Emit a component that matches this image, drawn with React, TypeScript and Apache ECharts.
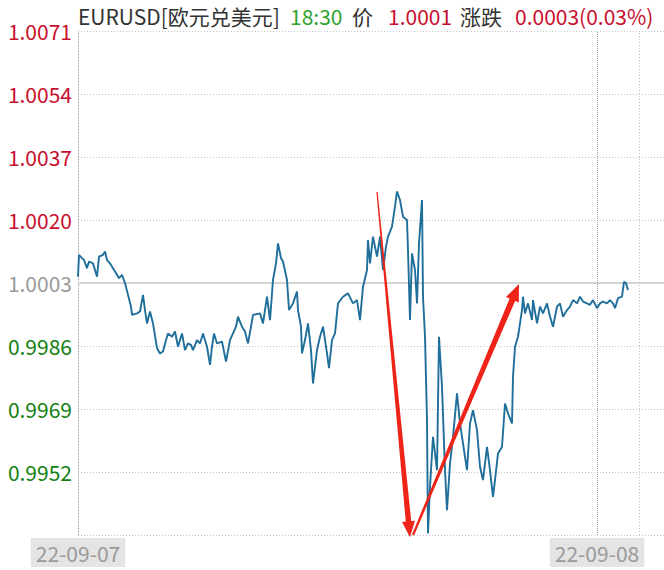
import React, { useEffect, useRef } from 'react';
import * as echarts from 'echarts';

// ---- header data ----
const symbolName = 'EURUSD[欧元兑美元]';
const quoteTime = '18:30';
const priceLabel = '价';
const lastPrice = '1.0001';
const changeLabel = '涨跌';
const changeText = '0.0003(0.03%)';

// ---- axis data ----
const prevClose = 1.0003;
const yStep = 17; // 0.0017 expressed in 0.0001 units
const yHalfRange = 68; // 0.0068
const dayLabels = ['22-09-07', '22-09-08'];
const dayStarts = [0, 519];
const sessionEnd = 561;
const axisEnd = 586;

// ---- series data (time slot, price) ----
const times = [
  0, 1, 4, 6, 9, 11, 15, 19, 21, 25,
  27, 29, 32, 35, 39, 41, 44, 47, 50, 53,
  54, 59, 62, 65, 67, 69, 72, 75, 79, 82,
  85, 88, 90, 94, 97, 100, 104, 107, 110, 113,
  115, 119, 122, 125, 129, 132, 134, 136, 139, 144,
  148, 152, 155, 158, 160, 164, 167, 170, 173, 175,
  182, 185, 189, 192, 195, 198, 200, 203, 205, 209,
  211, 215, 219, 220, 223, 224, 227, 230, 233, 235,
  239, 242, 245, 249, 251, 254, 257, 260, 265, 270,
  275, 279, 282, 285, 289, 290, 292, 295, 299, 302,
  305, 308, 310, 314, 317, 319, 322, 325, 329, 330,
  332, 334, 337, 339, 341, 344, 345, 347, 349, 350,
  352, 355, 359, 361, 364, 367, 369, 372, 375, 379,
  382, 385, 389, 392, 395, 399, 402, 405, 409, 412,
  415, 417, 420, 424, 427, 430, 434, 435, 437, 440,
  444, 445, 447, 450, 454, 455, 459, 462, 465, 469,
  472, 475, 479, 482, 485, 489, 492, 495, 499, 502,
  505, 509, 512, 515, 519, 522, 525, 529, 532, 535,
  537, 540, 544, 546, 548, 550,
];
const prices = [
  1.00047, 1.00106, 1.00097, 1.00092, 1.0007, 1.00088, 1.00083, 1.00047, 1.00101, 1.00106,
  1.00115, 1.00092, 1.00083, 1.0007, 1.00052, 1.00043, 1.00052, 1.0003, 0.99998, 0.99966,
  0.99944, 0.99948, 0.99953, 0.99998, 0.99957, 0.99921, 0.99953, 0.99921, 0.99854, 0.9984,
  0.99845, 0.99876, 0.99894, 0.99885, 0.99899, 0.99858, 0.99894, 0.99849, 0.99867, 0.99863,
  0.99849, 0.99876, 0.99867, 0.99894, 0.99858, 0.99809, 0.99858, 0.99894, 0.99867, 0.99872,
  0.99818, 0.99876, 0.99894, 0.99912, 0.99939, 0.99912, 0.99899, 0.99867, 0.99912, 0.99944,
  0.99948, 0.99921, 0.99993, 0.9993, 1.00038, 1.00083, 1.00137, 1.00097, 1.00088, 1.00038,
  0.99957, 0.99975, 1.00007, 0.99957, 0.99912, 0.9984, 0.99876, 0.99921, 0.99849, 0.99759,
  0.99849, 0.99885, 0.99912, 0.9984, 0.998, 0.99876, 0.99894, 0.99975, 0.99993, 1.00002,
  0.99975, 0.99984, 0.9993, 1.0002, 1.00065, 1.00146, 1.00083, 1.00155, 1.00101, 1.00155,
  1.00065, 1.00128, 1.00155, 1.00182, 1.00236, 1.00277, 1.00254, 1.00209, 1.002, 1.00119,
  0.9993, 1.0011, 1.00065, 0.99975, 1.00137, 1.00254, 0.99993, 0.99885, 0.9966, 0.99354,
  0.9948, 0.99615, 0.99525, 0.99885, 0.9975, 0.99525, 0.99417, 0.99543, 0.99615, 0.99732,
  0.99651, 0.99597, 0.99525, 0.99651, 0.99687, 0.99633, 0.99534, 0.99498, 0.99588, 0.99525,
  0.99453, 0.99498, 0.9957, 0.99588, 0.99705, 0.99678, 0.99651, 0.99777, 0.99858, 0.99885,
  0.99957, 0.99993, 0.99948, 0.99975, 0.9993, 0.99984, 0.99921, 0.99966, 0.99948, 0.99975,
  0.99939, 0.99912, 0.99966, 0.99975, 0.99939, 0.99957, 0.99966, 0.99984, 0.99975, 0.99993,
  0.9998, 0.99975, 0.99971, 0.99984, 0.99962, 0.99975, 0.9998, 0.99975, 0.99984, 0.99975,
  0.99962, 0.99989, 0.99993, 1.00033, 1.0003, 1.00011,
];

// ---- annotation arrows (time slot, price) ----
const arrowFrom = [
  [299, 1.00276],
  [335, 0.9935],
];
const arrowTo = [
  [332, 0.99344],
  [441, 1.00027],
];

// ---- styles ----
const RED = '#c8102e';
const GREEN = '#138013';
const GRAY = '#9a9a9a';
const DARK = '#333333';
const TIME_GREEN = '#2ea32e';
const LINE_BLUE = '#1f6f9a';
const ARROW_RED = '#ee2419';
const FONT = "'Noto Sans CJK SC', 'Noto Sans', sans-serif";
// [start width, end width, head width, head length]
const ARROW_SHAPE = [
  [1.2, 5.5, 13, 16],
  [2.2, 6, 14, 17],
];

const toOffset = (p: number) => Math.round((p - prevClose) * 1e6) / 100;

export default function App() {
  const ref = useRef<HTMLDivElement>(null);

  useEffect(() => {
    document.body.style.margin = '0';
    if (!ref.current) return;
    const chart = echarts.init(ref.current, undefined, { renderer: 'svg' });

    const n = Math.min(times.length, prices.length);
    const lineData = [] as number[][];
    for (let i = 0; i < n; i++) lineData.push([times[i], toOffset(prices[i])]);

    const arrowData = arrowFrom.map((f, i) => [
      f[0],
      toOffset(f[1]),
      arrowTo[i][0],
      toOffset(arrowTo[i][1]),
    ]);

    const headerPieces = [
      { text: symbolName, color: DARK, x: 78 },
      { text: quoteTime, color: TIME_GREEN, x: 290 },
      { text: priceLabel, color: DARK, x: 352 },
      { text: lastPrice, color: RED, x: 388 },
      { text: changeLabel, color: DARK, x: 460 },
      { text: changeText, color: RED, x: 515 },
    ];

    chart.setOption({
      animation: false,
      backgroundColor: '#ffffff',
      textStyle: { fontFamily: FONT },
      grid: { left: 78, right: 0, top: 31, bottom: 35, containLabel: false, outerBoundsMode: 'none' },
      graphic: headerPieces.map((p) => ({
        type: 'text',
        x: p.x,
        y: 16,
        style: {
          text: p.text,
          fill: p.color,
          fontSize: 21,
          fontFamily: FONT,
          verticalAlign: 'middle',
          align: 'left',
        },
      })),
      xAxis: {
        type: 'value',
        min: 0,
        max: axisEnd,
        axisLine: { show: true, lineStyle: { color: '#e4e4e4', width: 1 } },
        axisTick: { show: false },
        splitLine: { show: false },
        axisLabel: {
          customValues: dayStarts,
          formatter: (v: number) => {
            const k = dayStarts.indexOf(Math.round(v));
            return k >= 0 ? dayLabels[k] : '';
          },
          color: GRAY,
          fontSize: 21,
          lineHeight: 22,
          backgroundColor: '#e4e4e4',
          padding: [4, 5, 3, 5],
          margin: 3,
          fontFamily: FONT,
        },
      },
      yAxis: {
        type: 'value',
        min: -yHalfRange,
        max: yHalfRange,
        interval: yStep,
        axisLine: { show: true, lineStyle: { color: '#a8a8a8', type: [1, 2] } },
        axisTick: { show: false },
        splitLine: { show: true, lineStyle: { color: '#c4c4c4', type: [1, 2], width: 1 } },
        axisLabel: {
          showMinLabel: false,
          fontSize: 21,
          margin: 6,
          fontFamily: FONT,
          formatter: (v: number) => (prevClose + v / 10000).toFixed(4),
          color: (v: any) => {
            const x = Number(v);
            return x > 0.01 ? RED : x < -0.01 ? GREEN : GRAY;
          },
        },
      },
      series: [
        {
          type: 'line',
          data: lineData,
          showSymbol: false,
          symbol: 'none',
          z: 3,
          lineStyle: { color: LINE_BLUE, width: 1.9 },
          markLine: {
            silent: true,
            symbol: ['none', 'none'],
            z: 1,
            label: { show: false },
            emphasis: { disabled: true },
            data: [
              { yAxis: 0, lineStyle: { color: '#d4d4d4', width: 2, type: 'solid' } },
              { xAxis: dayStarts[1], lineStyle: { color: '#9c9c9c', width: 1, type: [1, 1] } },
              { xAxis: sessionEnd, lineStyle: { color: '#c0c0c0', width: 1, type: [1, 2] } },
            ],
          },
        },
        {
          type: 'custom',
          coordinateSystem: 'cartesian2d',
          clip: false,
          z: 10,
          silent: true,
          encode: { x: [0, 2], y: [1, 3] },
          data: arrowData,
          renderItem: (params: any, api: any) => {
            const i = params.dataIndex;
            const a = api.coord([api.value(0), api.value(1)]);
            const b = api.coord([api.value(2), api.value(3)]);
            const [w0, w1, hw, hl] = ARROW_SHAPE[i] || ARROW_SHAPE[0];
            const dx = b[0] - a[0];
            const dy = b[1] - a[1];
            const len = Math.hypot(dx, dy) || 1;
            const ux = dx / len;
            const uy = dy / len;
            const nx = -uy;
            const ny = ux;
            const nk = [b[0] - ux * hl, b[1] - uy * hl];
            const pts = [
              [a[0] + (nx * w0) / 2, a[1] + (ny * w0) / 2],
              [nk[0] + (nx * w1) / 2, nk[1] + (ny * w1) / 2],
              [nk[0] + (nx * hw) / 2, nk[1] + (ny * hw) / 2],
              [b[0], b[1]],
              [nk[0] - (nx * hw) / 2, nk[1] - (ny * hw) / 2],
              [nk[0] - (nx * w1) / 2, nk[1] - (ny * w1) / 2],
              [a[0] - (nx * w0) / 2, a[1] - (ny * w0) / 2],
            ];
            return { type: 'polygon', shape: { points: pts }, style: { fill: ARROW_RED } };
          },
        },
      ],
    });

    return () => chart.dispose();
  }, []);

  return (
    <div
      ref={ref}
      style={{ position: 'absolute', left: 0, top: 0, width: 664, height: 570 }}
    />
  );
}
